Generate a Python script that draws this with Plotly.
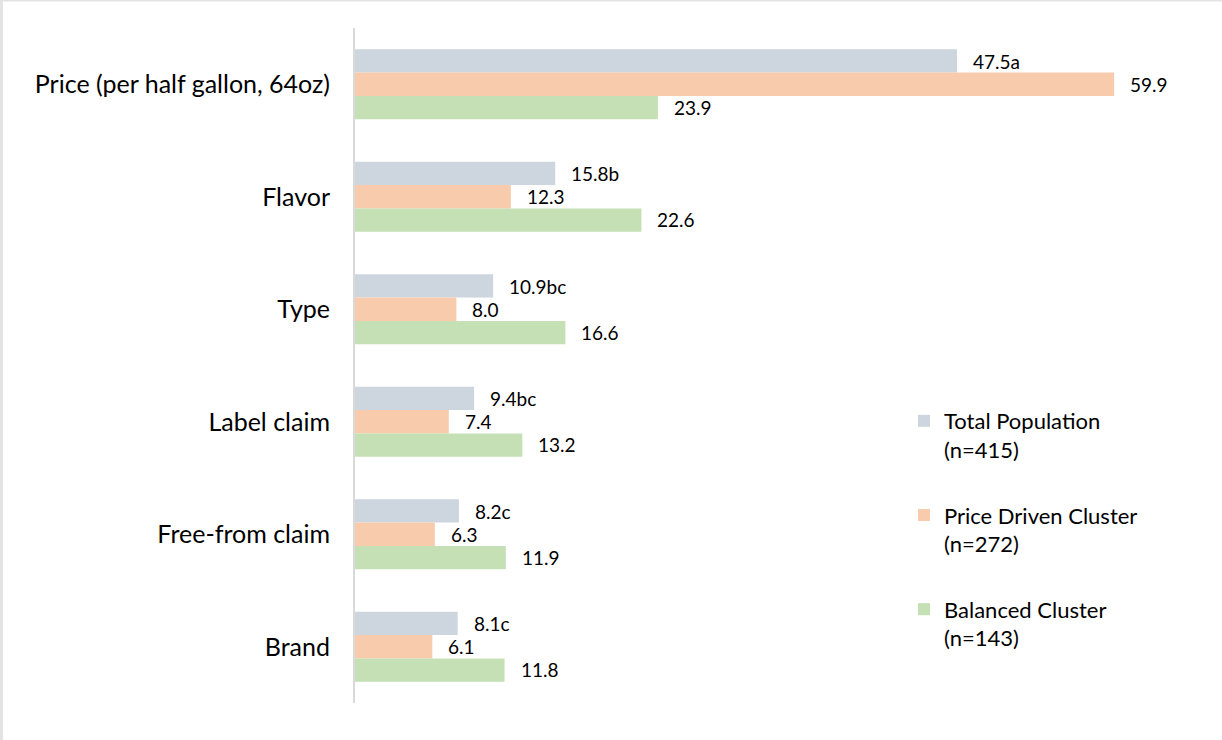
import plotly.graph_objects as go

# Attribute importance scores by consumer segment
categories = ["Price (per half gallon, 64oz)", "Flavor", "Type",
              "Label claim", "Free-from claim", "Brand"]
total_population = [47.5, 15.8, 10.9, 9.4, 8.2, 8.1]
total_letters = ["a", "b", "bc", "bc", "c", "c"]
price_driven = [59.9, 12.3, 8.0, 7.4, 6.3, 6.1]
balanced = [23.9, 22.6, 16.6, 13.2, 11.9, 11.8]

series_names = ["Total Population<br>(n=415)",
                "Price Driven Cluster<br>(n=272)",
                "Balanced Cluster<br>(n=143)"]
colors = ["#cdd5df", "#f8cbad", "#c5e0b4"]

FONT = "Lato"

fig = go.Figure()
for name, vals, col in zip(series_names,
                           [total_population, price_driven, balanced],
                           colors):
    fig.add_trace(go.Bar(
        y=categories, x=vals, orientation="h", name=name,
        marker=dict(color=col, line=dict(width=0)),
        legendgroup=name,
    ))

# value labels to the right of each bar
annotations = []
series_vals = [total_population, price_driven, balanced]
labels = [
    [f"{v:.1f}{s}" for v, s in zip(total_population, total_letters)],
    [f"{v:.1f}" for v in price_driven],
    [f"{v:.1f}" for v in balanced],
]
offsets = [23, 0, -23]
for vals, labs, dy in zip(series_vals, labels, offsets):
    for cat, v, lab in zip(categories, vals, labs):
        annotations.append(dict(
            x=v, y=cat, xref="x", yref="y", text=lab, showarrow=False,
            xanchor="left", yanchor="middle", xshift=14, yshift=dy,
            font=dict(family=FONT, size=19, color="#000000"),
        ))

L, T, B = 355, 28, 37
W_PLOT = 817
H_PLOT = 740 - T - B
X_MAX = W_PLOT / (602 / 47.5)

fig.update_layout(
    width=1222, height=740,
    margin=dict(l=L, r=1222 - L - W_PLOT, t=T, b=B, autoexpand=False),
    paper_bgcolor="white", plot_bgcolor="white",
    barmode="group", bargap=0.378, bargroupgap=0,
    font=dict(family=FONT, color="#000000"),
    showlegend=True,
    legend=dict(
        x=(904 - L) / W_PLOT, y=1 - (400 - T) / H_PLOT,
        xanchor="left", yanchor="top",
        font=dict(family=FONT, size=22, color="#000000"),
        valign="top", tracegroupgap=34, bgcolor="rgba(0,0,0,0)",
        traceorder="grouped",
    ),
    xaxis=dict(range=[0, X_MAX], visible=False, fixedrange=True),
    yaxis=dict(
        autorange="reversed", showline=True, linecolor="#d9d9d9",
        linewidth=2, ticks="", showgrid=False, zeroline=False,
        tickfont=dict(family=FONT, size=25, color="#000000"),
        ticklabelstandoff=18,
    ),
    annotations=annotations,
    shapes=[
        dict(type="line", xref="paper", yref="paper",
             x0=(1.5 - L) / W_PLOT, x1=(1.5 - L) / W_PLOT,
             y0=-B / H_PLOT, y1=1 + T / H_PLOT,
             line=dict(color="#e3e3e3", width=3)),
        dict(type="line", xref="paper", yref="paper",
             x0=-L / W_PLOT, x1=(1222 - L) / W_PLOT,
             y0=1 + (T - 0.5) / H_PLOT, y1=1 + (T - 0.5) / H_PLOT,
             line=dict(color="#e3e3e3", width=2)),
    ],
)

fig.write_html("out.html")
